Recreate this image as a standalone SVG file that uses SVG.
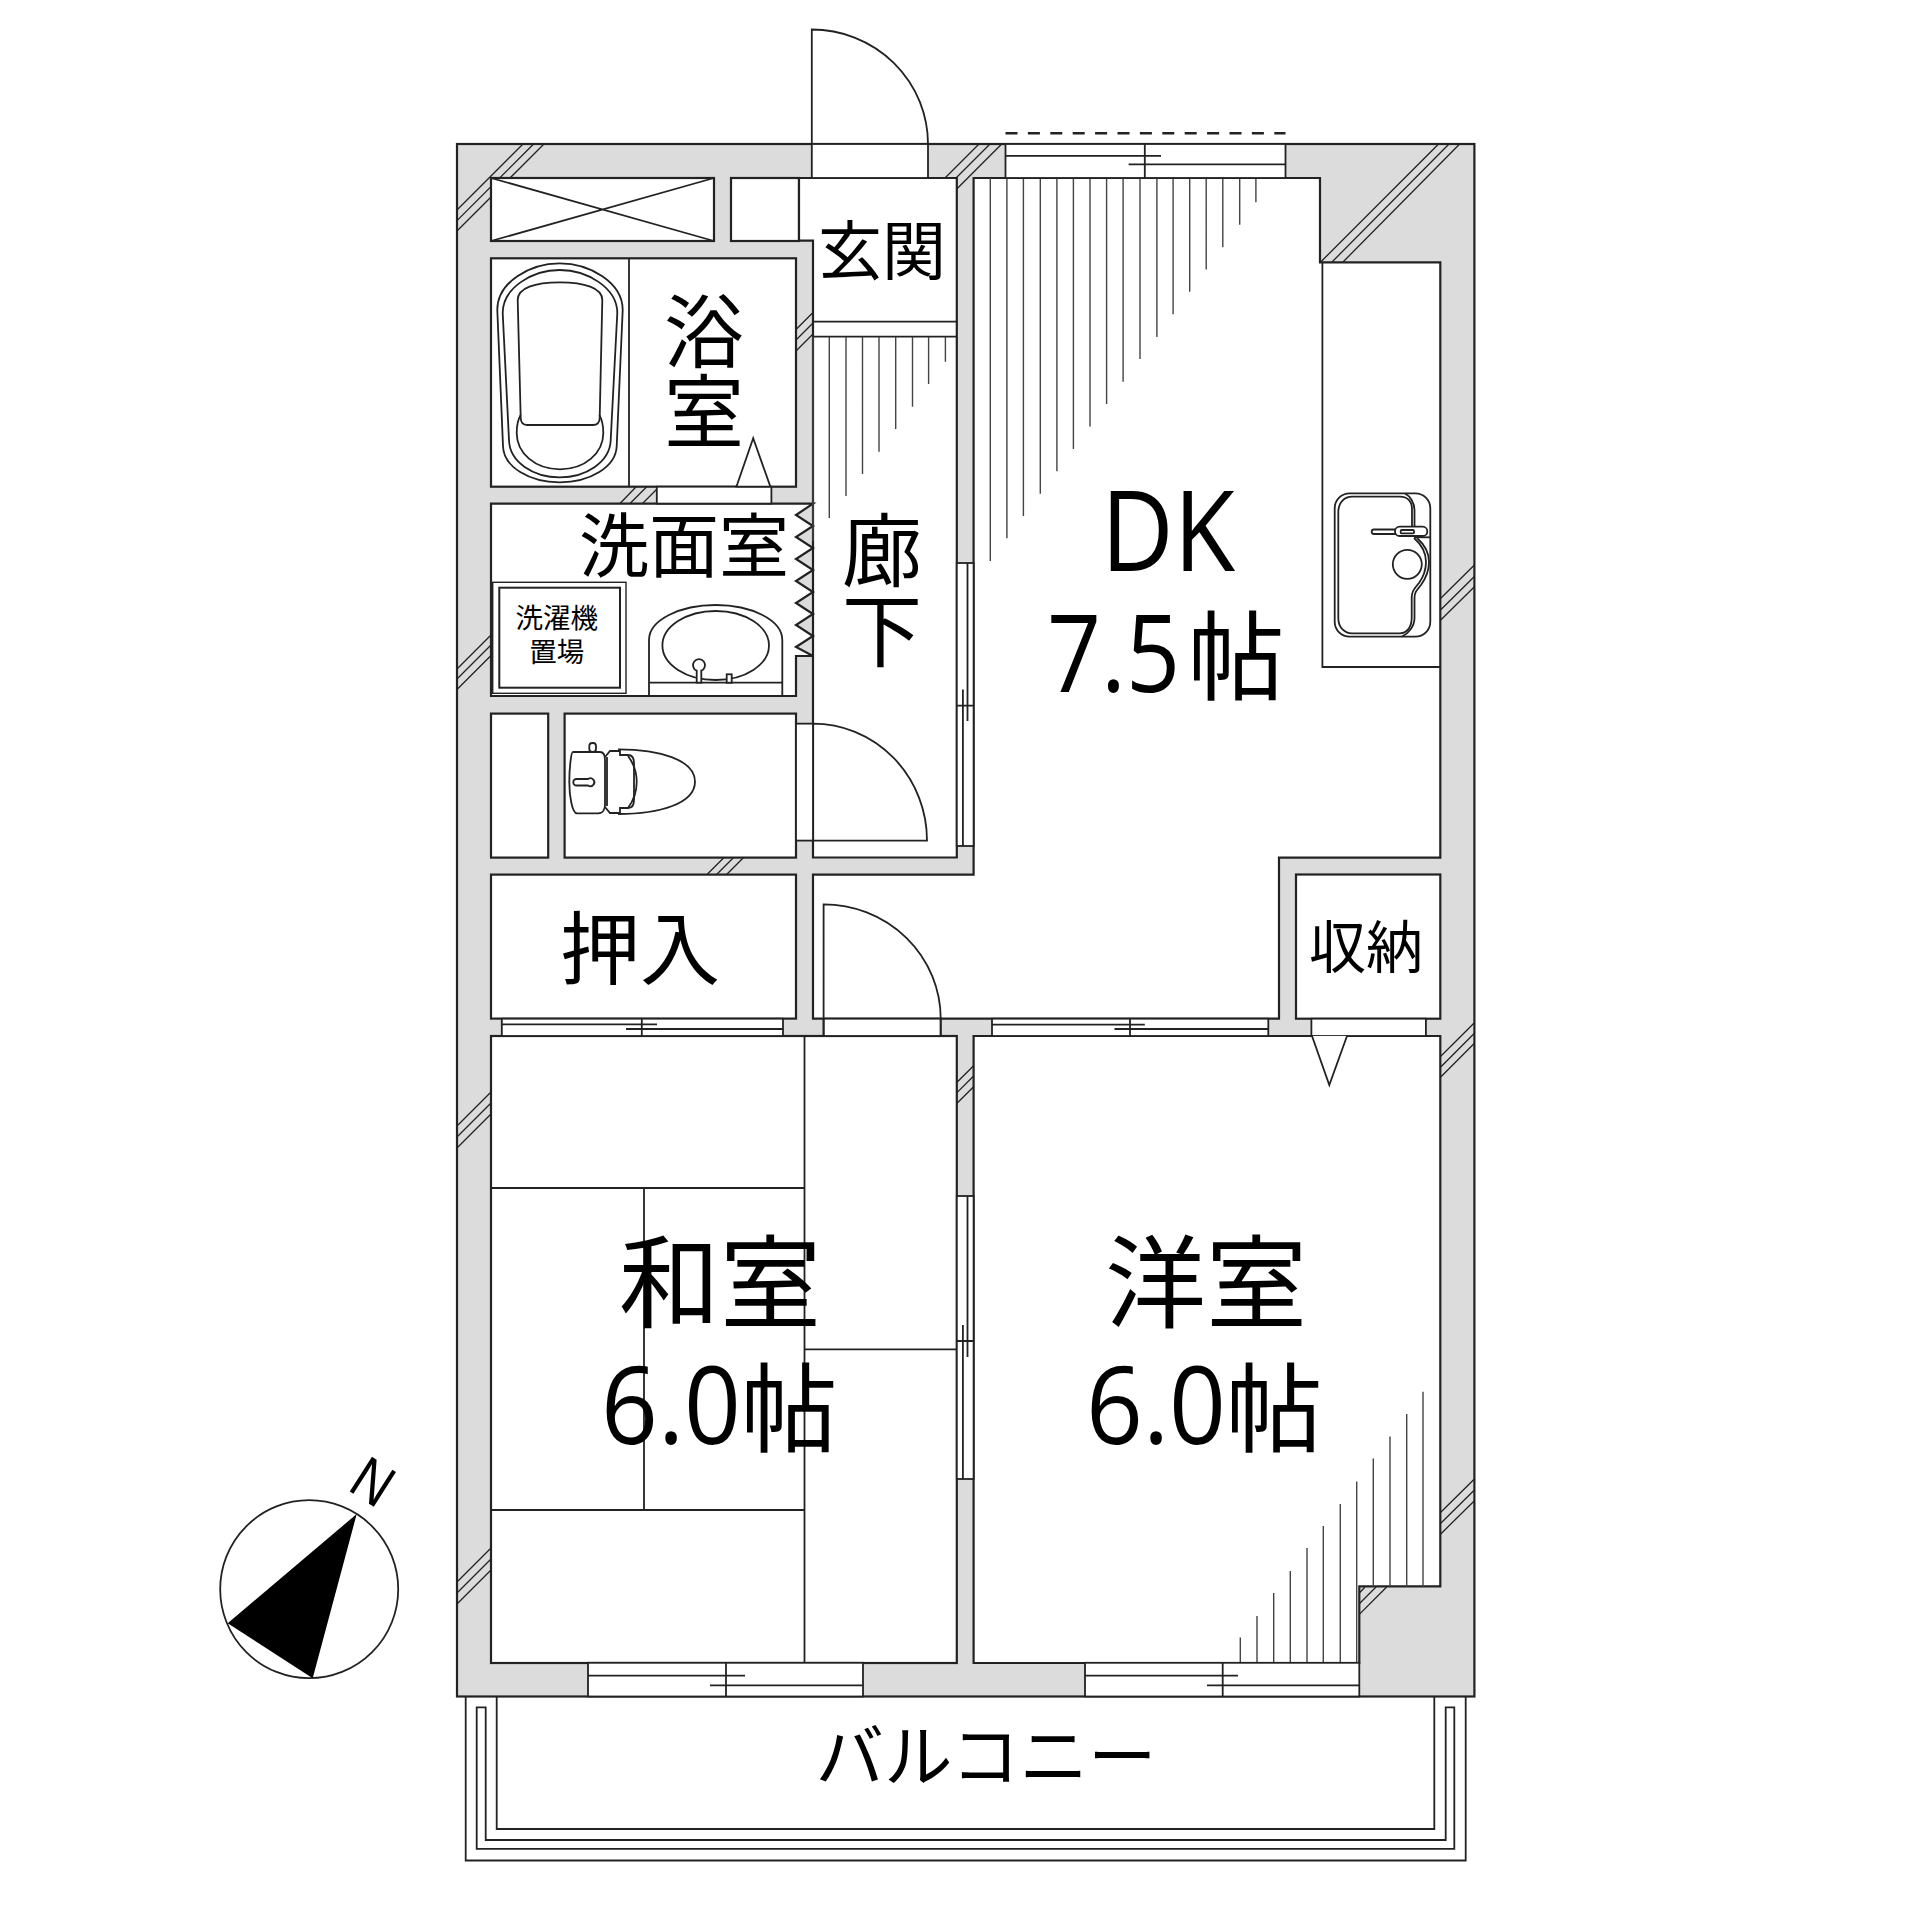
<svg xmlns="http://www.w3.org/2000/svg" width="1920" height="1920" viewBox="0 0 1920 1920">
<style>
.w{fill:#dcdcdc;stroke:#222;stroke-width:2.2}
.r{fill:#fff;stroke:#222;stroke-width:2.2}
.l{fill:none;stroke:#222;stroke-width:1.8}
.f{fill:#fff;stroke:#222;stroke-width:1.8}
.h{fill:none;stroke:#222;stroke-width:1.3}
.t{fill:none;stroke:#444;stroke-width:1.4}
text{font-family:"Noto Sans CJK JP","Noto Sans",sans-serif;fill:#000;text-anchor:middle}
.d{font-family:"Open Sans","Noto Sans",sans-serif;text-anchor:start}
</style>
<rect fill="#fff" width="1920" height="1920"/>
<g id="walls">
<rect class="w" x="457" y="144" width="1017.4" height="1552.5"/>
</g>
<g id="hatches">
<path class="h" d="M523 144L457 210M533.6 144L457 220.6M544 144L457 231M979 144L945 178M990 144L956 178M1001.7 144L957 188.8M1438.6 144L1320.7 262M1449 144L1332 262M1459.7 144L1343 262M813 312.5L796 329.5M813 323L796 340M813 334L796 351M636.4 486.5L620 503.5M647 486.5L630 503.5M657 489L642.5 503.5M491 635L457 669M491 645L457 679M491 655.5L457 689.5M724 857.5L707 874.5M733.6 857.5L716.6 874.5M743.6 857.5L726.6 874.5M1474.4 565L1440 599M1474.4 576.5L1440 610.5M1474.4 586.8L1440 620.8M1474.4 1022.7L1440 1057M1474.4 1033.3L1440 1067.7M1474.4 1043.3L1440 1077.7M973.6 1065.7L957 1082.3M973.6 1076L957 1092.6M973.6 1086.7L957 1103.3M1474.4 1479L1440 1513M1474.4 1490L1440 1524M1474.4 1500.7L1440 1534.7M1365 1587L1359.3 1593M1376 1587L1359.3 1603.7M1386.7 1587L1359.3 1614.4M491 1548L457 1582M491 1559L457 1593M491 1570L457 1604M491 1092L457 1126M491 1103L457 1137M491 1114L457 1148"/>
</g>
<g id="rooms">
<rect id="shaft" class="r" x="491" y="178" width="223" height="63"/>
<path class="l" d="M491 178L714 241M714 178L491 241"/>
<rect id="shoebox" class="r" x="731" y="178" width="68" height="63"/>
<rect id="bath" class="r" x="491" y="258.3" width="305" height="228.4"/>
<path class="l" d="M629 258.3V486.7"/>
<path id="entrance-corridor" class="r" d="M799 178H956.8V857.5H813V240.7H799Z"/>
<path class="l" d="M813 321.7H956.8M813 336.7H956.8"/>
<path id="washroom" class="r" d="M491 503.6H813L796 515 813 526 796 537 813 548 796 559 813 570 796 581 813 592 796 603 813 614 796 625 813 636 796 647 813 656H796V696H491Z"/>
<rect id="closet-small" class="r" x="491" y="713.6" width="57.2" height="144"/>
<rect id="toilet-room" class="r" x="564.6" y="713.6" width="231.4" height="144"/>
<rect id="oshiire" class="r" x="491" y="874.6" width="305" height="144"/>
<path id="dk" class="r" d="M973.6 178H1320V262.3H1440.3V857.7H1279V1018.7H813V874.6H973.6Z"/>
<rect id="storage" class="r" x="1296" y="874.5" width="144.3" height="144.2"/>
<rect id="washitsu" class="r" x="491" y="1036" width="465.8" height="627"/>
<path id="yoshitsu" class="r" d="M973.6 1036H1440.3V1586.4H1359.3V1663H973.6Z"/>
<path class="l" d="M1322.4 262.3V667H1440.3"/>
<path class="l" d="M491 1188H804.5M804.5 1036V1663M644 1188V1510M491 1510H804.5M804.5 1349.4H956.8"/>
</g>
<g id="ticks">
<path class="t" d="M990.3 178V561M1006.9 178V538.2M1023.4 178V516M1040.3 178V493.8M1056.9 178V471.2M1073.4 178V449M1090 178V426.4M1106.6 178V403.9M1123.1 178V381.7M1140 178V359.1M1156.9 178V336.9M1173.1 178V314.3M1189.7 178V291.7M1206.2 178V269.5M1222.8 178V247.3M1239.7 178V224.8M1255.9 178V202.2"/>
<path class="t" d="M813 337V541M829.3 337V518M846 337V496M862.5 337V474M879 337V451.7M895.7 337V429M912.5 337V406.7M928.6 337V384M945.4 337V361.7"/>
<path class="t" d="M1240.3 1662.5V1637.5M1257 1662.5V1616M1273.7 1662.5V1593M1290.3 1662.5V1571M1307 1662.5V1548M1323.3 1662.5V1526M1340.3 1662.5V1504M1356.7 1662.5V1481.4M1373.3 1586.4V1458.6M1390 1586.4V1436.4M1406.7 1586.4V1414M1423 1586.4V1391.8"/>
</g>
<g id="openings">
<rect id="entry-door-gap" class="f" x="811.8" y="144" width="116.2" height="34"/>
<path id="entry-door" class="l" d="M811.8 144V29.5A116.2 114.5 0 0 1 928 144"/>
<g id="window-top"><rect class="f" x="1005.5" y="144" width="280" height="34"/><path class="l" d="M1005.5 155.9H1161M1128.6 164.3H1285.5M1144.8 144V178"/><path class="l" stroke-dasharray="12 10.4" d="M1005.5 133.3H1285.5" style="stroke-width:2.4"/></g>
<g id="window-hall"><rect class="f" x="956.8" y="563" width="16.8" height="283"/><path class="l" d="M967.5 563V721M962.9 689.6V846M956.8 705.7H973.6"/></g>
<g id="window-rooms"><rect class="f" x="956.8" y="1196" width="16.8" height="283"/><path class="l" d="M967.5 1196V1357M962.9 1325V1479M956.8 1341H973.6"/></g>
<rect class="f" style="stroke:none" x="796.9" y="724.6" width="16" height="115"/>
<path id="toilet-door" class="l" d="M796 723.6H813A114 117 0 0 1 927 840.7H796M813 723.6V857.5"/>
<rect class="f" x="656.8" y="486.7" width="114.6" height="16.9"/>
<path id="bath-door" class="f" d="M736.4 486.7L753.2 438.3 770.4 486.7Z"/>
<g id="window-oshiire"><rect class="f" x="501.8" y="1018.7" width="281.2" height="17.3"/><path class="l" d="M501.8 1024.3H657M626 1029H783M641.8 1018.7V1036"/></g>
<rect class="f" x="823.6" y="1018.7" width="117.1" height="17.3"/>
<path id="washitsu-door" class="l" d="M823.6 1036V904.3A117.1 114.4 0 0 1 940.7 1018.7V1036"/>
<g id="window-dk"><rect class="f" x="992" y="1018.7" width="276.3" height="17.3"/><path class="l" d="M992 1024.7H1144.8M1114.5 1029H1268.3M1130 1018.7V1036"/></g>
<rect class="f" x="1311.4" y="1018.7" width="114.5" height="17.3"/>
<path id="storage-door" class="f" d="M1312 1036L1329.3 1085 1347 1036"/>
<g id="window-s1"><rect class="f" x="588" y="1662.8" width="275" height="33.7"/><path class="l" d="M588 1675.7H745M710 1685.4H863M726 1662.8V1696.5"/></g>
<g id="window-s2"><rect class="f" x="1085" y="1662.8" width="274.3" height="33.7"/><path class="l" d="M1085 1675.7H1238M1207 1685.4H1359.3M1222.7 1662.8V1696.5"/></g>
</g>
<g id="balcony">
<path class="l" d="M465.7 1696.5V1860.5H1465.7V1696.5M496.7 1696.5V1829H1434.3V1696.5M476.7 1707.3H485.7V1840H1445.7V1707.3H1454.3V1848.8H476.7Z"/>
</g>
<g id="bathtub">
<path class="l" d="M497.3 310C497.3 282 530 263.3 559.7 263.3S622.7 282 622.7 310L616.7 446C616 467 590 482.3 559.7 482.3S503.5 467 503 446Z"/>
<path class="l" d="M502.7 313C502.7 288 532 270 559.7 270S617.3 288 617.3 313L610.7 440C610 462 586 477.3 559.7 477.3S509.5 462 509 440Z"/>
<path class="l" d="M517.7 300C517.7 288 535 282.3 559.7 282.3S602.3 288 602.3 300L599.7 418Q599.5 425 593 425H527Q521 425 520.7 418Z"/>
<path class="l" d="M520.7 415C517 421 516.7 428 516.7 433C516.7 453 535 469.3 560 469.3S603.3 453 603.3 433C603.3 428 603 421 599.3 415"/>
</g>
<g id="washer">
<rect x="492.7" y="582.3" width="133.3" height="111" fill="#fff" stroke="#222" stroke-width="1.4"/>
<rect x="499.3" y="587.7" width="120.7" height="100" fill="#fff" stroke="#222" stroke-width="2"/>
</g>
<g id="wash-basin">
<path class="l" d="M649 696V640C649 620 680 605 715.7 605S782.3 620 782.3 640V696M649 682.7H782.3"/>
<ellipse class="l" cx="715.7" cy="645.5" rx="53.3" ry="34.5"/>
<path class="f" d="M696.7 682.7V670.7A6 6 0 1 1 701.3 670.7V682.7Z"/>
<rect class="f" x="726.7" y="674.3" width="5" height="8.4"/>
</g>
<g id="toilet">
<path class="l" d="M618 749.3C660 749.3 695 760 695 781.7S660 814 618 814"/>
<rect class="f" x="589.3" y="743" width="6.7" height="9" rx="3"/>
<path class="f" d="M573 752H600C604 752 605 756 605 760V805C605 809 603 813.3 598 813.3H577C572 813.3 569.3 795 569.3 782S571 752 573 752Z"/>
<path class="l" d="M607 757V806M605 757L610 751H620V755H628C633 755 634 759 634 763V800C634 805 632 808 628 808H620V813H610L605 807"/>
<path class="l" d="M628 756C634 764 636.7 772 636.7 782S634 800 628 808"/>
<path class="f" d="M576.5 779H588A4 4 0 1 1 588 785.5H576.5A3.2 3.2 0 0 1 576.5 779Z"/>
</g>
<g id="kitchen-sink">
<rect class="l" x="1334.7" y="493.3" width="95.6" height="143.4" rx="15"/>
<path class="l" d="M1412 527V509C1412 502 1408 496.7 1400 496.7H1352C1345 496.7 1338.3 502 1338.3 512V618C1338.3 628 1345 633.3 1352 633.3H1400C1406 633.3 1411.7 628 1411.7 618V597C1411.7 590 1416 587 1419 583C1424 576 1426 570 1426 562C1426 552 1422 545 1414 538"/>
<path class="l" d="M1414.5 527V510C1414.5 503 1410 496 1405 493.5M1417 538C1425 545 1429 553 1429 562C1429 571 1426 578 1421 585C1417 590 1414.5 592 1414.5 598V618C1414.5 626 1409 633 1402 636.5"/>
<path class="l" d="M1414 537.3H1430.3"/>
<rect class="f" x="1371.7" y="529.5" width="26" height="4.5" rx="2.2"/>
<rect class="f" x="1395" y="526.7" width="32.3" height="9.3" rx="4.6"/>
<rect class="f" x="1400.7" y="530" width="13.3" height="3.4" rx="1"/>
<circle class="f" cx="1407.3" cy="564.3" r="14.5"/>
</g>
<g id="compass">
<circle class="l" cx="309.2" cy="1589.2" r="89"/>
<path d="M356.7 1514L227.7 1623.3 312.7 1678.3Z" fill="#000"/>
<text transform="translate(373.5 1480.5) rotate(32.5) scale(.85 1)" y="22" font-size="60" style="font-family:'Liberation Sans',sans-serif">N</text>
</g>
<g id="labels">
<text x="882" y="274" font-size="64">玄関</text>
<text font-size="80"><tspan x="704" y="361">浴</tspan><tspan x="704" y="441">室</tspan></text>
<text x="684" y="572" font-size="70" style="paint-order:stroke;stroke:#fff;stroke-width:3">洗面室</text>
<text font-size="80"><tspan x="882" y="580">廊</tspan><tspan x="882" y="660">下</tspan></text>
<text font-size="27.5"><tspan x="556.7" y="628">洗濯機</tspan><tspan x="556.7" y="662">置場</tspan></text>
<text x="640" y="978" font-size="80">押入</text>
<text x="1366" y="968" font-size="57">収納</text>
<text class="d" x="1101" y="571" font-size="112" textLength="134" lengthAdjust="spacingAndGlyphs">DK</text>
<text y="692"><tspan class="d" x="1047" font-size="108" textLength="133" lengthAdjust="spacingAndGlyphs">7.5</tspan><tspan x="1236" font-size="97">帖</tspan></text>
<text x="720" y="1320" font-size="101">和室</text>
<text y="1444"><tspan class="d" x="601" font-size="108" textLength="140" lengthAdjust="spacingAndGlyphs">6.0</tspan><tspan x="789" font-size="97">帖</tspan></text>
<text x="1206" y="1320" font-size="101">洋室</text>
<text y="1444"><tspan class="d" x="1086" font-size="108" textLength="140" lengthAdjust="spacingAndGlyphs">6.0</tspan><tspan x="1274" font-size="97">帖</tspan></text>
<text x="986" y="1781" font-size="68.5">バルコニー</text>
</g>
</svg>
